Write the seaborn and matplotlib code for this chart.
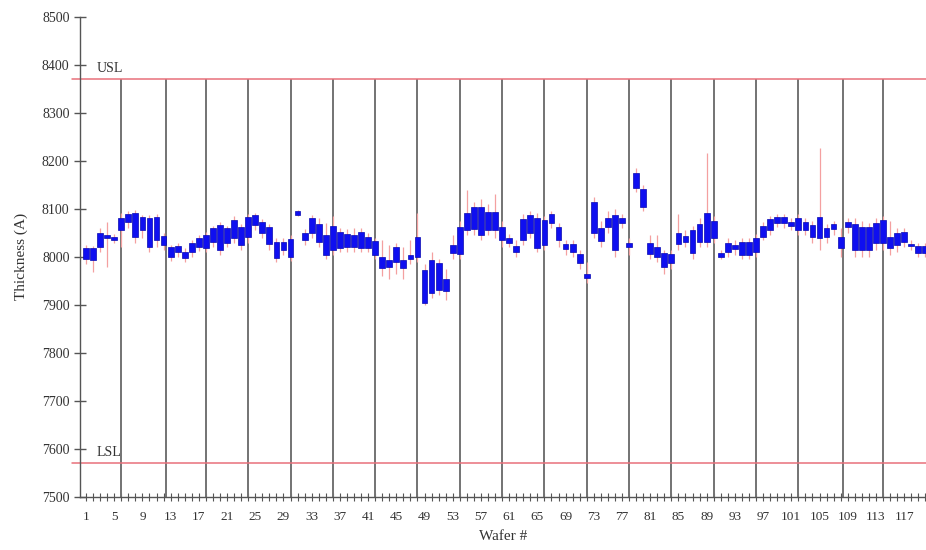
import numpy as np
import pandas as pd
import matplotlib
matplotlib.use("Agg")
import matplotlib.pyplot as plt
import seaborn as sns

# ---------------- data ----------------
wafers = list(range(1, 121))

box_low = [7996, 7994, 8021, 8040, 8035, 8056, 8073, 8042, 8056, 8021,
           8035, 8025, 8000, 8010, 7998, 8010, 8021, 8019, 8031, 8015,
           8029, 8040, 8025, 8042, 8067, 8050, 8027, 7998, 8015, 8000,
           8087, 8035, 8050, 8031, 8004, 8015, 8019, 8021, 8021, 8019,
           8019, 8004, 7977, 7979, 7990, 7977, 7996, 8000, 7905, 7925,
           7931, 7929, 8008, 8006, 8056, 8058, 8046, 8056, 8056, 8035,
           8029, 8010, 8035, 8050, 8019, 8025, 8071, 8035, 8017, 8010,
           7987, 7956, 8050, 8033, 8062, 8015, 8071, 8021, 8144, 8104,
           8006, 8000, 7979, 7987, 8027, 8031, 8008, 8031, 8031, 8040,
           8000, 8010, 8017, 8004, 8004, 8010, 8042, 8056, 8071, 8071,
           8065, 8056, 8056, 8042, 8040, 8042, 8058, 8019, 8062, 8015,
           8015, 8015, 8029, 8029, 8019, 8025, 8031, 8023, 8008, 8008]

box_high = [8019, 8019, 8050, 8046, 8042, 8081, 8090, 8092, 8083, 8081,
            8083, 8044, 8021, 8023, 8010, 8029, 8040, 8046, 8060, 8067,
            8060, 8077, 8062, 8083, 8087, 8073, 8062, 8031, 8031, 8038,
            8096, 8050, 8081, 8069, 8046, 8065, 8052, 8048, 8046, 8052,
            8042, 8033, 8000, 7994, 8021, 7994, 8004, 8042, 7973, 7994,
            7987, 7954, 8025, 8062, 8092, 8104, 8104, 8094, 8094, 8062,
            8040, 8023, 8079, 8087, 8081, 8077, 8090, 8062, 8027, 8027,
            8006, 7965, 8115, 8060, 8081, 8087, 8081, 8029, 8175, 8142,
            8029, 8021, 8008, 8006, 8050, 8044, 8056, 8069, 8092, 8075,
            8008, 8029, 8025, 8031, 8031, 8040, 8065, 8079, 8083, 8083,
            8073, 8081, 8073, 8067, 8083, 8060, 8069, 8042, 8073, 8069,
            8062, 8062, 8071, 8077, 8042, 8050, 8052, 8027, 8023, 8023]

whisk_low = [7985, 7969, 8010, 7979, 8030, 8021, 8060, 8030, 8040, 8010,
             8020, 8015, 7992, 8000, 7990, 8000, 8012, 8010, 8020, 8005,
             8020, 8030, 8015, 8030, 8055, 8040, 8015, 7990, 8005, 7992,
             8085, 8025, 8040, 8020, 7995, 8005, 8010, 8010, 8010, 8010,
             8010, 7995, 7960, 7955, 7965, 7955, 7985, 7990, 7900, 7915,
             7920, 7910, 7995, 7995, 8045, 8045, 8035, 8045, 8040, 8020,
             8020, 8000, 8025, 8040, 8010, 8015, 8060, 8020, 8005, 8000,
             7975, 7945, 8040, 8020, 8050, 8000, 8060, 8005, 8135, 8095,
             7995, 7990, 7965, 7975, 8015, 8020, 7995, 8020, 8020, 8030,
             7995, 8000, 8005, 7995, 7995, 8000, 8035, 8045, 8062, 8060,
             8055, 8045, 8045, 8030, 8015, 8030, 8045, 8000, 8050, 8000,
             8000, 8000, 8015, 8015, 8005, 8010, 8020, 8015, 8000, 8000]

whisk_high = [8025, 8022, 8060, 8073, 8048, 8092, 8095, 8098, 8088, 8088,
              8090, 8050, 8025, 8030, 8018, 8035, 8045, 8052, 8065, 8072,
              8065, 8085, 8068, 8090, 8092, 8078, 8068, 8040, 8040, 8045,
              8098, 8058, 8088, 8080, 8070, 8085, 8060, 8058, 8060, 8060,
              8050, 8040, 8035, 8025, 8030, 8020, 8035, 8092, 7985, 8010,
              7995, 7975, 8045, 8075, 8140, 8115, 8120, 8110, 8130, 8075,
              8048, 8035, 8090, 8095, 8092, 8085, 8095, 8070, 8035, 8035,
              8015, 7990, 8125, 8075, 8095, 8100, 8090, 8040, 8185, 8150,
              8045, 8045, 8015, 8015, 8090, 8055, 8065, 8080, 8217, 8085,
              8015, 8040, 8035, 8040, 8040, 8048, 8072, 8085, 8090, 8090,
              8080, 8090, 8080, 8075, 8227, 8068, 8075, 8060, 8080, 8080,
              8075, 8070, 8080, 8085, 8075, 8060, 8060, 8035, 8030, 8030]

lot_boundaries = [6, 12.4, 18, 24, 30, 36, 42, 48, 54, 60, 66, 72, 78, 84,
                  90, 96, 102, 108.4, 114]

usl = 8370
lsl = 7570
y_ticks = list(range(7500, 8501, 100))
x_tick_labels = list(range(1, 118, 4))

df = pd.DataFrame({"wafer": wafers, "box_low": box_low, "box_high": box_high,
                   "whisk_low": whisk_low, "whisk_high": whisk_high})

# ---------------- style ----------------
sns.set_theme(style="ticks")
plt.rcParams["font.family"] = ["Liberation Serif", "DejaVu Serif"]

fig = plt.figure(figsize=(9.26, 5.5), dpi=100)
ax = fig.add_axes([0.0864, 0.0964, 0.9136, 0.873])

# lot boundaries
ax.vlines(lot_boundaries, 7500, usl, colors="#737373", linewidth=1.4, zorder=1)

# spec limits
for val, lab in [(usl, "USL"), (lsl, "LSL")]:
    ax.axhline(val, xmin=-0.01, xmax=1.0, color="#e8707a", linewidth=1.1,
               zorder=2, clip_on=False)
    ax.text(2.5, val + 9, lab, fontsize=10, color="#333333", ha="left",
            va="bottom")

# whiskers
ax.vlines(df["wafer"], df["whisk_low"], df["whisk_high"], colors="#f4a0a0",
          linewidth=0.9, zorder=3)

# boxes
ax.bar(df["wafer"], df["box_high"] - df["box_low"], bottom=df["box_low"],
       width=0.82, color="#0f0ff0", edgecolor="#0808b0", linewidth=0.5,
       zorder=4)

ax.set_xlim(0.15, 120.1)
ax.set_ylim(7500, 8500)
ax.set_yticks(y_ticks)
ax.set_yticklabels([str(v) for v in y_ticks], fontsize=10, color="#333333")
ax.set_xticks(wafers, minor=True)
ax.set_xticks(x_tick_labels)
ax.set_xticklabels([str(v) for v in x_tick_labels], fontsize=9.5,
                   color="#333333")
ax.tick_params(axis="y", direction="inout", length=9, width=1,
               color="#555555", pad=3)
ax.tick_params(axis="x", which="both", direction="inout", length=6,
               width=0.8, color="#555555", pad=7)

sns.despine(ax=ax, top=True, right=True)
for s in ["left", "bottom"]:
    ax.spines[s].set_color("#555555")
    ax.spines[s].set_linewidth(1.0)

ax.set_ylabel("Thickness (A)", fontsize=11, color="#333333", labelpad=10)
ax.set_xlabel("Wafer #", fontsize=11, color="#333333", labelpad=5)
ax.grid(False)

fig.savefig("out.png", dpi=100)
